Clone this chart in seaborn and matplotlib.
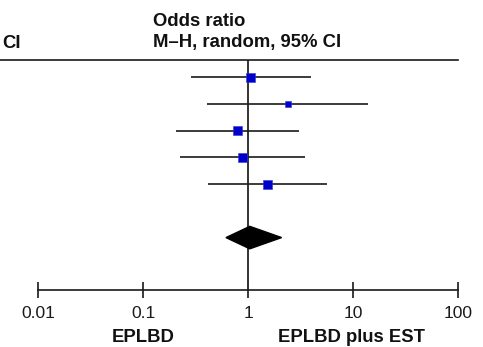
import matplotlib
matplotlib.use("Agg")
import matplotlib.pyplot as plt
import numpy as np
import pandas as pd
import seaborn as sns

# study estimates (odds ratio with 95% CI)
odds_ratio = [1.06, 2.39, 0.79, 0.89, 1.53]
ci_low = [0.284, 0.41, 0.206, 0.226, 0.42]
ci_high = [3.96, 14.0, 3.06, 3.47, 5.62]
weight = [42, 19, 42, 42, 42]
row = [0, 1, 2, 3, 4]

# pooled estimate
pooled_or = 1.04
pooled_low = 0.617
pooled_high = 2.09
pooled_row = 6

xticks = [0.01, 0.1, 1, 10, 100]
xticklabels = ["0.01", "0.1", "1", "10", "100"]

sns.set_style("white")
plt.rcParams["font.family"] = ["Liberation Sans", "DejaVu Sans"]

df = pd.DataFrame({"or": odds_ratio, "row": row, "w": weight})

fig = plt.figure(figsize=(4.83, 3.47), dpi=100)
ax = fig.add_axes([0, 57 / 347, 1, 230 / 347])

ax.hlines(row, ci_low, ci_high, color="#1a1a1a", lw=1.2, zorder=2)
sns.scatterplot(data=df, x="or", y="row", size="w", sizes=(19, 42), marker="s",
                color="#0000cc", edgecolor="#3333dd", linewidth=0.4,
                legend=False, ax=ax, zorder=3)

# pooled diamond
dh = 0.42
ax.fill([pooled_low, pooled_or, pooled_high, pooled_or],
        [pooled_row, pooled_row - dh, pooled_row, pooled_row + dh],
        color="black", zorder=3)

ax.axvline(1, color="#333333", lw=1.4, zorder=1)

ax.set_xscale("log")
ax.set_xlim(10 ** (-248 / 105), 10 ** (235 / 105))
ax.set_ylim(7.96, -0.64)

for s in ["left", "right"]:
    ax.spines[s].set_visible(False)
ax.spines["top"].set_bounds(10 ** (-248 / 105), 100)
ax.spines["bottom"].set_bounds(0.01, 100)
for s in ["top", "bottom"]:
    ax.spines[s].set_color("#1a1a1a")
    ax.spines[s].set_linewidth(1.2)

ax.set_yticks([])
ax.set_xticks(xticks)
ax.set_xticklabels(xticklabels)
ax.xaxis.set_minor_locator(matplotlib.ticker.NullLocator())
ax.tick_params(axis="x", which="major", direction="inout", length=11, width=1.2,
               color="#1a1a1a", labelsize=12.6, labelcolor="#1a1a1a", pad=6,
               bottom=True)
ax.set_xlabel("")
ax.set_ylabel("")

fs = 13.3
fig.text(153 / 483, 1 - 21 / 347, "Odds ratio", fontsize=fs, fontweight="bold",
         va="center", ha="left", color="#111111")
fig.text(153 / 483, 1 - 43 / 347, "M\u2013H, random, 95% CI", fontsize=fs,
         fontweight="bold", va="center", ha="left", color="#111111")
fig.text(2 / 483, 1 - 43 / 347, "CI", fontsize=fs, fontweight="bold",
         va="center", ha="left", color="#111111")
fig.text(143 / 483, 1 - 337 / 347, "EPLBD", fontsize=fs, fontweight="bold",
         va="center", ha="center", color="#111111")
fig.text(352 / 483, 1 - 337 / 347, "EPLBD plus EST", fontsize=fs,
         fontweight="bold", va="center", ha="center", color="#111111")

fig.savefig("out.png", dpi=100)
